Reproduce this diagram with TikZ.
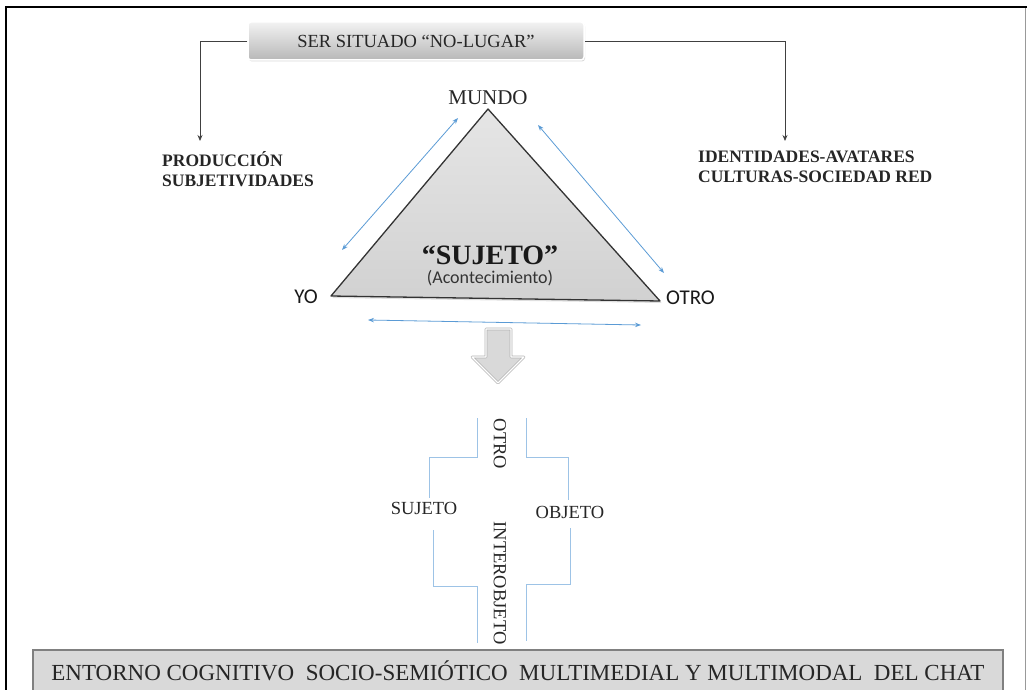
\documentclass[tikz,border=0pt]{standalone}
\usepackage{fontspec}
\setmainfont{Liberation Serif}
\newfontfamily\sansf{Carlito}
\usepackage{tikz}
\usetikzlibrary{positioning,arrows.meta,shadows}
\tikzset{>=Stealth}
\definecolor{cFlecha}{RGB}{91,155,213}
\definecolor{cGuia}{RGB}{157,195,230}
\definecolor{cCaja}{RGB}{217,217,217}
\definecolor{cBorde}{RGB}{64,64,64}

\begin{document}
\begin{tikzpicture}[
  x=1pt, y=-1pt,
  every node/.style={inner sep=0pt}
]

% Estilos.
\tikzset{
  titulo/.style={rectangle, rounded corners=3pt, minimum width=336pt, minimum height=38pt,
    top color=black!5, bottom color=black!28, draw=white, line width=1.5pt,
    drop shadow={opacity=0.3, shadow xshift=1pt, shadow yshift=-1.5pt},
    font=\fontsize{18.5}{20}\selectfont, text=black!85},
  lado/.style={align=left, font=\fontsize{17.5}{20}\selectfont\bfseries, text=black!85},
  vertice/.style={font=\sansf\fontsize{21}{24}\selectfont, text=black!90},
  etiq/.style={font=\fontsize{18.5}{20}\selectfont, text=black!85},
  flecha/.style={cFlecha, line width=0.8pt, {Stealth[length=6pt,width=4.5pt]}-{Stealth[length=6pt,width=4.5pt]}},
  guia/.style={cGuia, line width=1pt},
  conector/.style={cBorde, line width=0.8pt, -{Stealth[length=6pt,width=5pt]}},
  entorno/.style={rectangle, minimum width=970pt, minimum height=42pt, fill=cCaja,
    draw=black!50, line width=2.5pt, font=\fontsize{23}{26}\selectfont, text=black!85}
}

% Marco.
\useasboundingbox (0,0) rectangle (1027,690);
\clip (0,0) rectangle (1027,690);
\draw[black!40, line width=0.8pt] (1025,8) -- (1025,690);
\draw[black, line width=1.6pt] (6,690) -- (6,7) -- (1027,7);

% Arriba.
\node (lugar) [titulo] at (416,41) {SER SITUADO “NO-LUGAR”};
\node (prod)  [lado, anchor=north west] at (162,151) {PRODUCCIÓN\\SUBJETIVIDADES};
\node (ident) [lado, anchor=north west] at (698,151) {IDENTIDADES-AVATARES\\CULTURAS-SOCIEDAD RED};

\draw[conector] (lugar.west) -| ([xshift=38pt, yshift=10pt]prod.north west);
\draw[conector] (lugar.east) -| ([xshift=87pt, yshift=10pt]ident.north west);

% Triangulo.
\coordinate (tA) at (488,109);
\coordinate (tB) at (331,296);
\coordinate (tC) at (660,301);
\fill[black!25, opacity=0.5] ([shift={(1.5,2)}]tA) -- ([shift={(1.5,2)}]tB) -- ([shift={(1.5,2)}]tC) -- cycle;
\shade[top color=black!10, bottom color=black!18] (tA) -- (tB) -- (tC) -- cycle;
\draw[black!80, line width=1.3pt, line join=round] (tA) -- (tB) -- (tC) -- cycle;

\node (mundo) [etiq, font=\fontsize{21}{24}\selectfont, anchor=base] at (488,105) {MUNDO};
\node (yo)    [vertice, anchor=base east] at (318,303) {YO};
\node (otro)  [vertice, anchor=base west] at (666,304) {OTRO};
\node (sujeto) [font=\fontsize{28}{30}\selectfont\bfseries, text=black!90, anchor=base] at (490,264) {“SUJETO”};
\node (acont) [font=\sansf\fontsize{18}{20}\selectfont, text=black!80, below=6pt of sujeto] {(Acontecimiento)};

% Flechas azules.
\coordinate (f1a) at (342,250);
\coordinate (f1b) at (458,118);
\coordinate (f2a) at (538,125);
\coordinate (f2b) at (664,273);
\coordinate (f3a) at (368,320);
\coordinate (f3b) at (641,325);
\draw[flecha] (f1a) -- (f1b);
\draw[flecha] (f2a) -- (f2b);
\draw[flecha] (f3a) -- (f3b);

% Flecha hacia abajo.
\draw[draw=black!30, line width=2.6pt, fill=black!15, line join=round]
  (486,329) -- (511,329) -- (511,357) -- (524,357) -- (498,383) -- (472,357) -- (486,357) -- cycle;
\draw[white, line width=1.2pt, line join=round]
  (486,329) -- (511,329) -- (511,357) -- (524,357) -- (498,383) -- (472,357) -- (486,357) -- cycle;

% Abajo.
\node (sujeto2) [etiq] at (424,508) {SUJETO};
\node (objeto)  [etiq] at (570,512) {OBJETO};
\node (otro2)   [etiq, rotate=-90] at (500,444) {OTRO};
\node (inter)   [etiq, rotate=-90] at (500,583) {INTEROBJETO};

\draw[guia] (477,418) -- (477,457) -- (429,457) -- (429,498);
\draw[guia] (433,530) -- (433,586) -- (477,586) -- (477,643);
\draw[guia] (526,418) -- (526,457) -- (568,457) -- (568,500);
\draw[guia] (570,528) -- (570,584) -- (526,584) -- (526,641);

\node (entorno) [entorno] at (518,671) {ENTORNO COGNITIVO~ SOCIO-SEMIÓTICO~ MULTIMEDIAL Y MULTIMODAL~ DEL CHAT};
\end{tikzpicture}
\end{document}
